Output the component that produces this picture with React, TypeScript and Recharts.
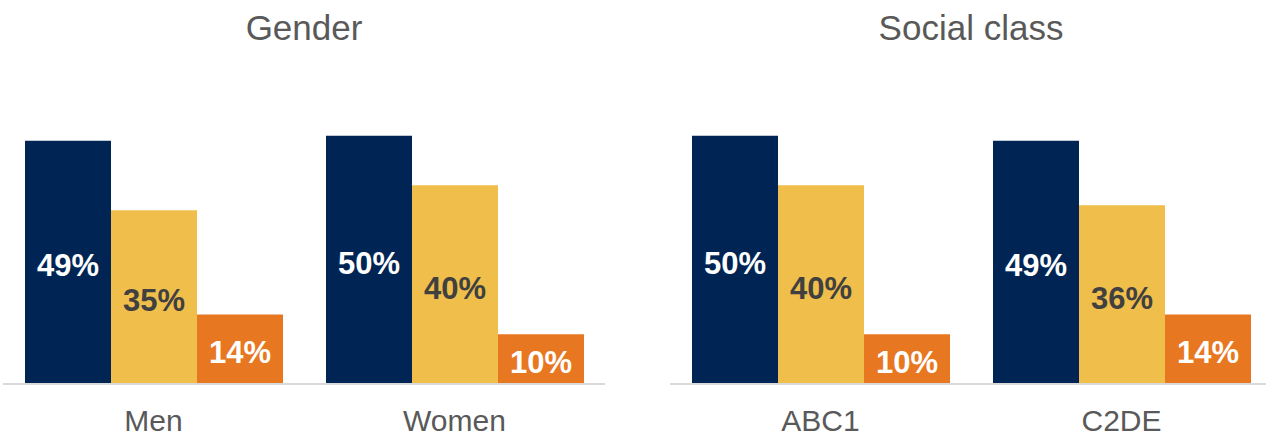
import { BarChart, Bar, XAxis, YAxis, LabelList } from 'recharts'

const genderCategories = ['Men', 'Women']
const genderBlue = [49, 50]
const genderYellow = [35, 40]
const genderOrange = [14, 10]

const classCategories = ['ABC1', 'C2DE']
const classBlue = [50, 49]
const classYellow = [40, 36]
const classOrange = [10, 14]

const FONT = '"Liberation Sans", Arial, sans-serif'
const NAVY = '#002554'
const YELLOW = '#F0BE4A'
const ORANGE = '#E87722'

function build(cats: string[], blue: number[], yellow: number[], orange: number[]) {
  return cats.map((name, i) => ({ name, blue: blue[i], yellow: yellow[i], orange: orange[i] }))
}

const pct = (v: any) => `${v}%`

function Panel({ title, left, data }: { title: string; left: number; data: any[] }) {
  return (
    <div style={{ position: 'absolute', left, top: 0, width: 602, height: 436 }}>
      <div
        style={{
          position: 'absolute',
          top: 10,
          left: 0,
          width: 602,
          textAlign: 'center',
          fontSize: 35,
          lineHeight: '35px',
          color: '#595959',
          fontFamily: FONT,
        }}
      >
        {title}
      </div>
      <BarChart
        width={602}
        height={436}
        data={data}
        margin={{ top: 86, right: 0, bottom: 0, left: 0 }}
        barGap={0}
        barSize={86}
        style={{ position: 'absolute', top: 0, left: 0 }}
      >
        <XAxis
          dataKey="name"
          height={52}
          tickLine={false}
          tickSize={0}
          tickMargin={26}
          axisLine={{ stroke: '#d9d9d9', strokeWidth: 2 }}
          tick={{ fill: '#595959', fontSize: 30, fontFamily: FONT }}
        />
        <YAxis hide domain={[0, 60]} />
        <Bar dataKey="blue" fill={NAVY} isAnimationActive={false}>
          <LabelList dataKey="blue" position="center" formatter={pct} dy={3} fill="#ffffff" fontSize={31} fontWeight="bold" fontFamily={FONT} />
        </Bar>
        <Bar dataKey="yellow" fill={YELLOW} isAnimationActive={false}>
          <LabelList dataKey="yellow" position="center" formatter={pct} dy={3} fill="#404040" fontSize={31} fontWeight="bold" fontFamily={FONT} />
        </Bar>
        <Bar dataKey="orange" fill={ORANGE} isAnimationActive={false}>
          <LabelList dataKey="orange" position="center" formatter={pct} dy={3} fill="#ffffff" fontSize={31} fontWeight="bold" fontFamily={FONT} />
        </Bar>
      </BarChart>
    </div>
  )
}

export default function App() {
  return (
    <div
      style={{
        position: 'fixed',
        left: 0,
        top: 0,
        width: 1266,
        height: 436,
        overflow: 'hidden',
        background: '#ffffff',
      }}
    >
      <Panel title="Gender" left={3} data={build(genderCategories, genderBlue, genderYellow, genderOrange)} />
      <Panel title="Social class" left={670} data={build(classCategories, classBlue, classYellow, classOrange)} />
    </div>
  )
}
